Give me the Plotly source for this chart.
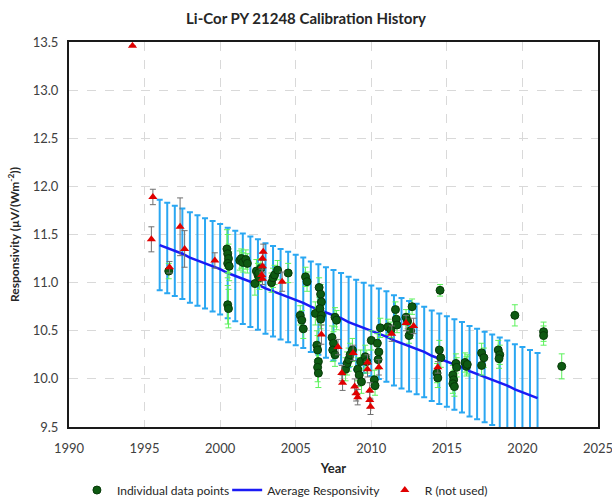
import plotly.graph_objects as go

# ---- Average responsivity (fit) with uncertainty bars ----
avg_years = [1996.0, 1996.5, 1997.0, 1997.5, 1998.0, 1998.5, 1999.0, 1999.5, 2000.0, 2000.5,
             2001.0, 2001.5, 2002.0, 2002.5, 2003.0, 2003.5, 2004.0, 2004.5, 2005.0, 2005.5,
             2006.0, 2006.5, 2007.0, 2007.5, 2008.0, 2008.5, 2009.0, 2009.5, 2010.0, 2010.5,
             2011.0, 2011.5, 2012.0, 2012.5, 2013.0, 2013.5, 2014.0, 2014.5, 2015.0, 2015.5,
             2016.0, 2016.5, 2017.0, 2017.5, 2018.0, 2018.5, 2019.0, 2019.5, 2020.0, 2020.5,
             2021.0]
avg_values = [11.39, 11.36, 11.33, 11.30, 11.26, 11.23, 11.20, 11.17, 11.14, 11.10,
              11.07, 11.04, 11.01, 10.98, 10.94, 10.91, 10.88, 10.85, 10.82, 10.79,
              10.75, 10.72, 10.69, 10.66, 10.63, 10.59, 10.56, 10.53, 10.50, 10.47,
              10.44, 10.40, 10.37, 10.34, 10.31, 10.28, 10.24, 10.21, 10.18, 10.15,
              10.12, 10.08, 10.05, 10.02, 9.99, 9.96, 9.93, 9.89, 9.86, 9.83,
              9.80]
avg_unc = 0.47

# ---- Individual data points ----
green_years = [1996.6, 2000.45, 2000.5, 2000.55, 2000.5, 2000.6, 2000.5, 2000.55,
               2001.3, 2001.4, 2001.5, 2001.7, 2001.8, 2002.3, 2002.4, 2002.5, 2002.6,
               2002.7, 2002.55, 2003.4, 2003.5, 2003.6, 2003.8, 2004.5, 2005.3, 2005.4,
               2005.5, 2005.65, 2005.75, 2006.3, 2006.4, 2006.45, 2006.5, 2006.45, 2006.5,
               2006.55, 2006.65, 2006.7, 2006.6, 2006.7, 2006.65, 2007.4, 2007.5, 2007.45,
               2007.6, 2007.6, 2007.7, 2008.3, 2008.4, 2008.5, 2008.6, 2008.75, 2009.1,
               2009.2, 2009.35, 2009.3, 2009.6, 2009.7, 2010.0, 2010.2, 2010.25, 2010.4,
               2010.5, 2010.45, 2010.6, 2011.1, 2011.3, 2011.6, 2011.65, 2011.7, 2012.3,
               2012.4, 2012.5, 2012.6, 2012.7, 2014.55, 2014.5, 2014.6, 2014.35, 2014.4,
               2015.4, 2015.45, 2015.4, 2015.5, 2015.6, 2015.65, 2016.2, 2016.3, 2016.35,
               2017.3, 2017.45, 2017.3, 2018.4, 2018.5, 2018.45, 2019.5, 2021.4, 2021.4,
               2022.6]
green_values = [11.12, 11.35, 11.30, 11.25, 11.20, 11.17, 10.77, 10.73,
                11.23, 11.25, 11.21, 11.24, 11.20, 10.99, 11.12, 11.08, 11.05,
                11.15, 11.10, 11.00, 11.05, 11.08, 11.13, 11.10, 10.66, 10.61,
                10.52, 11.06, 11.01, 10.68, 10.35, 10.30, 10.18, 10.12, 10.06,
                10.95, 10.88, 10.80, 10.73, 10.66, 10.62, 10.43, 10.37, 10.30,
                10.25, 10.64, 10.61, 10.10, 10.16, 10.20, 10.25, 10.30, 10.10,
                10.04, 9.97, 10.18, 10.23, 10.18, 10.40, 9.99, 9.93, 10.37,
                10.28, 10.20, 10.53, 10.54, 10.51, 10.72, 10.62, 10.56, 10.64,
                10.60, 10.45, 10.50, 10.75, 10.92, 10.30, 10.22, 10.06, 10.01,
                10.04, 9.99, 9.95, 9.92, 10.16, 10.12, 10.17, 10.13, 10.15,
                10.27, 10.22, 10.14, 10.30, 10.25, 10.21, 10.66, 10.49, 10.45,
                10.13]
green_errors = [0.08, 0.2, 0.2, 0.15, 0.15, 0.15, 0.2, 0.2,
                0.1, 0.1, 0.1, 0.1, 0.1, 0.12, 0.12, 0.12, 0.12,
                0.1, 0.1, 0.1, 0.1, 0.1, 0.1, 0.1, 0.1, 0.1,
                0.1, 0.1, 0.1, 0.12, 0.15, 0.15, 0.15, 0.15, 0.15,
                0.1, 0.1, 0.1, 0.1, 0.1, 0.1, 0.12, 0.12, 0.12,
                0.12, 0.1, 0.1, 0.12, 0.12, 0.12, 0.12, 0.12, 0.12,
                0.12, 0.12, 0.12, 0.12, 0.12, 0.1, 0.1, 0.1, 0.1,
                0.1, 0.1, 0.1, 0.08, 0.08, 0.08, 0.08, 0.08, 0.08,
                0.08, 0.08, 0.08, 0.08, 0.06, 0.1, 0.1, 0.1, 0.1,
                0.1, 0.1, 0.1, 0.1, 0.1, 0.1, 0.1, 0.1, 0.1,
                0.1, 0.1, 0.1, 0.1, 0.1, 0.1, 0.11, 0.1, 0.1,
                0.13]

# ---- R (not used) ----
red_years = [1994.2, 1995.55, 1995.45, 1996.65, 1997.35, 1997.65, 1999.65, 2002.85,
             2002.8, 2002.8, 2002.75, 2002.8, 2004.1, 2006.7, 2007.8, 2008.05, 2008.1,
             2008.8, 2008.9, 2009.0, 2009.1, 2009.75, 2009.75, 2009.9, 2009.9, 2009.95,
             2010.5, 2011.35, 2012.3, 2012.8, 2014.4]
red_values = [13.46, 11.89, 11.45, 11.16, 11.58, 11.35, 11.23, 11.32,
              11.25, 11.17, 11.08, 11.04, 11.01, 10.46, 10.33, 10.06, 9.96,
              10.27, 9.92, 9.85, 9.81, 10.17, 10.10, 9.88, 9.78, 9.71,
              10.12, 10.47, 10.58, 10.55, 10.12]
red_errors = [0.0, 0.08, 0.13, 0.06, 0.3, 0.19, 0.08, 0.08,
              0.06, 0.06, 0.06, 0.06, 0.1, 0.1, 0.08, 0.08, 0.08,
              0.08, 0.08, 0.08, 0.08, 0.08, 0.08, 0.08, 0.08, 0.08,
              0.08, 0.08, 0.08, 0.08, 0.06]

x_ticks = [1990, 1995, 2000, 2005, 2010, 2015, 2020, 2025]
y_ticks = [9.5, 10.0, 10.5, 11.0, 11.5, 12.0, 12.5, 13.0, 13.5]

FONT = "Lato"
LEG_FONT = dict(family=FONT, size=12, color="#262626")

fig = go.Figure()

# uncertainty bars of the average
fig.add_trace(go.Scatter(
    x=avg_years, y=avg_values, mode="markers",
    marker=dict(size=1, color="rgba(0,0,0,0)"),
    error_y=dict(type="constant", value=avg_unc, color="#2AA7F2", thickness=2, width=3),
    showlegend=False, hoverinfo="skip"))

fig.add_trace(go.Scatter(
    x=avg_years, y=avg_values, mode="lines", name="Average Responsivity",
    line=dict(color="#1B1BF5", width=2.5), legend="legend2"))

fig.add_trace(go.Scatter(
    x=green_years, y=green_values, mode="markers", name="Individual data points",
    marker=dict(symbol="circle", size=8, color="#0E5A12", line=dict(color="#073A09", width=1)),
    error_y=dict(type="data", array=green_errors, color="#5CF25C", thickness=1, width=3),
    legend="legend"))

fig.add_trace(go.Scatter(
    x=red_years, y=red_values, mode="markers", name="R (not used)",
    marker=dict(symbol="triangle-up", size=8, color="#E00000"),
    error_y=dict(type="data", array=red_errors, color="#707070", thickness=1, width=3),
    legend="legend3"))

leg_common = dict(orientation="h", yref="container", y=0.016, yanchor="middle",
                  xanchor="left", font=LEG_FONT, bgcolor="rgba(0,0,0,0)")

fig.update_layout(
    width=612, height=498,
    paper_bgcolor="white", plot_bgcolor="white",
    margin=dict(l=69, r=14, t=42, b=71, autoexpand=False),
    font=dict(family=FONT, size=13, color="#404040"),
    title=dict(text="<b>Li-Cor PY 21248 Calibration History</b>", x=0.5, xanchor="center",
               y=0.962, yanchor="middle", font=dict(family=FONT, size=15, color="#262626")),
    showlegend=True,
    legend=dict(x=0.015, **leg_common),
    legend2=dict(x=0.299, **leg_common),
    legend3=dict(x=0.597, **leg_common),
)

fig.update_xaxes(
    range=[1990, 2025], tickvals=x_ticks, ticks="", showgrid=True,
    gridcolor="#D9D9D9", griddash="dash", gridwidth=1,
    showline=True, linecolor="#1a1a1a", linewidth=2, mirror=True, zeroline=False,
    automargin=False, ticklabelstandoff=8, ticklabeloverflow="allow",
    tickfont=dict(family=FONT, size=13, color="#404040"),
    title=dict(text="<b>Year</b>", font=dict(family=FONT, size=13, color="#262626"), standoff=14))

fig.update_yaxes(
    range=[9.5, 13.5], tickvals=y_ticks, tickformat=".1f", ticks="", showgrid=True,
    gridcolor="#D9D9D9", griddash="dash", gridwidth=1,
    showline=True, linecolor="#1a1a1a", linewidth=2, mirror=True, zeroline=False,
    automargin=False, ticklabelstandoff=6, ticklabeloverflow="allow",
    tickfont=dict(family=FONT, size=13, color="#404040"),
    title=dict(text="<b>Responsivity (µV/(Wm<sup>-2</sup>))</b>",
               font=dict(family=FONT, size=12, color="#262626"), standoff=10))

fig.write_html("out.html", config={"displayModeBar": False},
               post_script="document.body.style.margin='0';")
